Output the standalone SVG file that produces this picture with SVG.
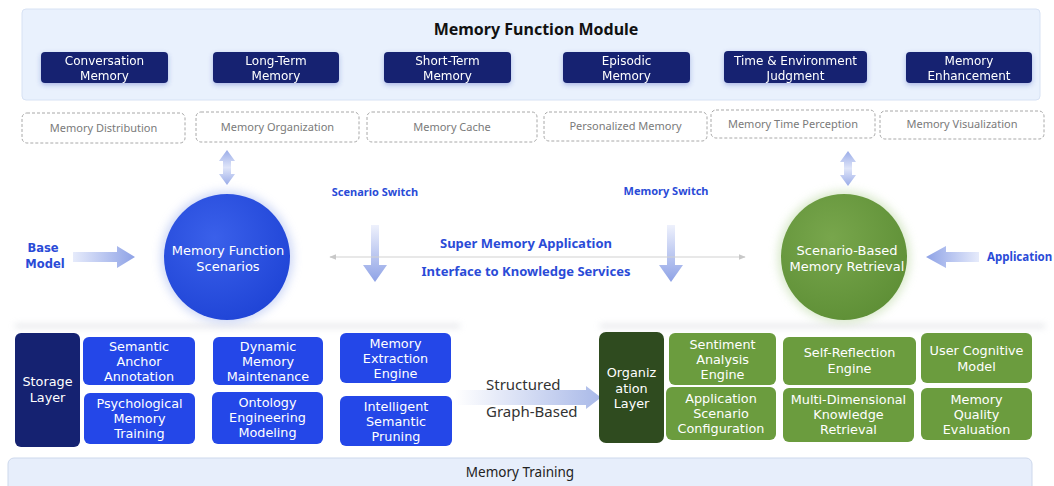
<svg xmlns="http://www.w3.org/2000/svg" width="1054" height="486" viewBox="0 0 1054 486">
<defs>
<style>
.t{font-family:"Noto Sans","Open Sans","DejaVu Sans",sans-serif}
.m{font-family:"DejaVu Sans","Liberation Sans",sans-serif}
.navy{fill:#152271}
.nt{font-size:12px;fill:#fff;text-anchor:middle}
.dash{fill:#fff;stroke:#a8a8a8;stroke-width:1;stroke-dasharray:3 2}
.dt{font-size:11px;fill:#7a7a7a;text-anchor:middle}
.bb{fill:#2447e8}
.gb{fill:#6b9c3e}
.bt{font-size:12.8px;fill:#fff;text-anchor:middle}
.lbl{fill:#2a4bd7;font-weight:bold;text-anchor:middle}
</style>
<filter id="sh" x="-20%" y="-30%" width="140%" height="180%">
<feDropShadow dx="0" dy="2" stdDeviation="2.5" flood-color="#3048b8" flood-opacity="0.35"/>
</filter>
<filter id="blur" x="-30%" y="-30%" width="160%" height="160%">
<feGaussianBlur stdDeviation="5"/>
</filter>
<filter id="blur2" x="-10%" y="-200%" width="120%" height="500%">
<feGaussianBlur stdDeviation="3"/>
</filter>
<radialGradient id="gBlue" cx="40%" cy="35%" r="70%">
<stop offset="0" stop-color="#3a60ea"/>
<stop offset="1" stop-color="#1f44d6"/>
</radialGradient>
<radialGradient id="gGreen" cx="40%" cy="35%" r="70%">
<stop offset="0" stop-color="#78a64c"/>
<stop offset="1" stop-color="#5e8f36"/>
</radialGradient>
<linearGradient id="arH" x1="0" y1="0" x2="1" y2="0">
<stop offset="0" stop-color="#e6ebfb"/>
<stop offset="1" stop-color="#8ea2e6"/>
</linearGradient>
<linearGradient id="arHL" x1="1" y1="0" x2="0" y2="0">
<stop offset="0" stop-color="#e6ebfb"/>
<stop offset="1" stop-color="#8ea2e6"/>
</linearGradient>
<linearGradient id="arV" x1="0" y1="0" x2="0" y2="1">
<stop offset="0" stop-color="#eef1fc"/>
<stop offset="1" stop-color="#8ea2e6"/>
</linearGradient>
<linearGradient id="arD" x1="0" y1="0" x2="0" y2="1">
<stop offset="0" stop-color="#9aace8"/>
<stop offset="0.5" stop-color="#dfe5f9"/>
<stop offset="1" stop-color="#9aace8"/>
</linearGradient>
<linearGradient id="arS" x1="0" y1="0" x2="1" y2="0">
<stop offset="0" stop-color="#ffffff"/>
<stop offset="1" stop-color="#a9b9e8"/>
</linearGradient>
<marker id="thin" viewBox="0 0 10 10" refX="9" refY="5" markerWidth="6" markerHeight="6" orient="auto-start-reverse">
<path d="M0,1 L10,5 L0,9 z" fill="#c8c8c8"/>
</marker>
</defs>

<rect width="1054" height="486" fill="#ffffff"/>

<!-- top module panel -->
<g id="module">
<rect x="22" y="9" width="1018" height="91" rx="4" fill="#e9f1fd" stroke="#d7e2f4"/>
<text class="t" x="536" y="35" font-size="16" font-weight="bold" fill="#111" text-anchor="middle">Memory Function Module</text>
</g>
<g id="conv" filter="url(#sh)"><rect class="navy" x="41" y="52" width="127" height="31" rx="4"/>
<text class="m nt" x="104.5" y="64.5">Conversation</text><text class="m nt" x="104.5" y="80">Memory</text></g>
<g id="longterm" filter="url(#sh)"><rect class="navy" x="213" y="52" width="126" height="31" rx="4"/>
<text class="m nt" x="276" y="64.5">Long-Term</text><text class="m nt" x="276" y="80">Memory</text></g>
<g id="shortterm" filter="url(#sh)"><rect class="navy" x="384" y="52" width="127" height="31" rx="4"/>
<text class="m nt" x="447.5" y="64.5">Short-Term</text><text class="m nt" x="447.5" y="80">Memory</text></g>
<g id="episodic" filter="url(#sh)"><rect class="navy" x="563" y="52" width="127" height="31" rx="4"/>
<text class="m nt" x="626.5" y="64.5">Episodic</text><text class="m nt" x="626.5" y="80">Memory</text></g>
<g id="timeenv" filter="url(#sh)"><rect class="navy" x="724" y="51" width="143" height="32" rx="4"/>
<text class="m nt" x="795.5" y="64.5">Time &amp; Environment</text><text class="m nt" x="795.5" y="80">Judgment</text></g>
<g id="enhance" filter="url(#sh)"><rect class="navy" x="906" y="52" width="126" height="31" rx="4"/>
<text class="m nt" x="969" y="64.5">Memory</text><text class="m nt" x="969" y="80">Enhancement</text></g>

<!-- dashed row -->
<g id="distribution"><rect class="dash" x="22" y="113" width="163" height="30" rx="5"/><text class="t dt" x="103.5" y="132">Memory Distribution</text></g>
<g id="organization"><rect class="dash" x="196" y="112" width="163" height="30" rx="5"/><text class="t dt" x="277.5" y="131">Memory Organization</text></g>
<g id="cache"><rect class="dash" x="367" y="112" width="170" height="30" rx="5"/><text class="t dt" x="452" y="131">Memory Cache</text></g>
<g id="personalized"><rect class="dash" x="544" y="112" width="163" height="29" rx="5"/><text class="t dt" x="625.5" y="130">Personalized Memory</text></g>
<g id="timeperception"><rect class="dash" x="711" y="110" width="164" height="28" rx="5"/><text class="t dt" x="793" y="128">Memory Time Perception</text></g>
<g id="visualization"><rect class="dash" x="880" y="111" width="164" height="28" rx="5"/><text class="t dt" x="962" y="128">Memory Visualization</text></g>

<!-- soft shadow band above bottom -->
<rect x="15" y="324" width="445" height="4" fill="#c9ccd4" opacity="0.5" filter="url(#blur2)"/>
<rect x="600" y="324" width="445" height="4" fill="#c9ccd4" opacity="0.5" filter="url(#blur2)"/>

<!-- circles -->
<g id="scenarios">
<circle cx="227" cy="257" r="66" fill="#b9c7f3" opacity="0.7" filter="url(#blur)"/>
<circle cx="227" cy="257" r="63" fill="url(#gBlue)"/>
<text class="m" x="228" y="255" font-size="13" fill="#fff" text-anchor="middle">Memory Function</text>
<text class="m" x="228" y="271" font-size="13" fill="#fff" text-anchor="middle">Scenarios</text>
</g>
<g id="retrieval">
<circle cx="844" cy="257" r="66" fill="#cfe3bd" opacity="0.8" filter="url(#blur)"/>
<circle cx="844" cy="257" r="63" fill="url(#gGreen)"/>
<text class="m" x="847" y="255" font-size="13" fill="#fff" text-anchor="middle">Scenario-Based</text>
<text class="m" x="847" y="271" font-size="13" fill="#fff" text-anchor="middle">Memory Retrieval</text>
</g>

<!-- labels -->
<g id="labels">
<text class="m lbl" x="43" y="252" font-size="11.5">Base</text>
<text class="m lbl" x="45" y="268" font-size="11.5">Model</text>
<text class="t lbl" x="375" y="196" font-size="11">Scenario Switch</text>
<text class="t lbl" x="666" y="195" font-size="11">Memory Switch</text>
<text class="t lbl" x="526" y="248" font-size="13">Super Memory Application</text>
<text class="t lbl" x="526" y="276" font-size="13">Interface to Knowledge Services</text>
<text class="t" x="987" y="261" font-size="11.5" font-weight="bold" fill="#2a4bd7">Application</text>
</g>

<!-- connectors -->
<g id="connectors">
<path d="M73,252 H117 V246 L135,257 L117,268 V262 H73 Z" fill="url(#arH)"/>
<path d="M979,252 H946 V246 L926,257 L946,268 V262 H979 Z" fill="url(#arHL)"/>
<path d="M371,225 V265 H363 L375,282 L387,265 H379 V225 Z" fill="url(#arV)"/>
<path d="M667,225 V265 H659 L671,282 L683,265 H675 V225 Z" fill="url(#arV)"/>
<path d="M227,150 L235,161 H231 V174 H235 L227,185 L219,174 H223 V161 H219 Z" fill="url(#arD)"/>
<path d="M848,151 L856,162 H852 V175 H856 L848,186 L840,175 H844 V162 H840 Z" fill="url(#arD)"/>
<line x1="330" y1="257" x2="745" y2="257" stroke="#d2d2d2" stroke-width="1.2" marker-start="url(#thin)" marker-end="url(#thin)"/>
<path d="M455,390 H586 V386 L601,397.5 L586,409 V405 H455 Z" fill="url(#arS)"/>
</g>

<!-- storage layer -->
<g id="storage"><rect class="navy" x="15" y="333" width="65" height="114" rx="6"/>
<text class="m bt" x="47.5" y="386">Storage</text><text class="m bt" x="47.5" y="402">Layer</text></g>
<g id="semantic"><rect class="bb" x="83" y="337" width="112" height="48" rx="6"/>
<text class="m bt" x="139" y="351">Semantic</text><text class="m bt" x="139" y="366">Anchor</text><text class="m bt" x="139" y="381">Annotation</text></g>
<g id="dynamic"><rect class="bb" x="213" y="337" width="110" height="48" rx="6"/>
<text class="m bt" x="268" y="351">Dynamic</text><text class="m bt" x="268" y="366">Memory</text><text class="m bt" x="268" y="381">Maintenance</text></g>
<g id="extraction"><rect class="bb" x="340" y="333" width="111" height="50" rx="6"/>
<text class="m bt" x="395.5" y="348">Memory</text><text class="m bt" x="395.5" y="363">Extraction</text><text class="m bt" x="395.5" y="378">Engine</text></g>
<g id="psych"><rect class="bb" x="84" y="393" width="111" height="51" rx="6"/>
<text class="m bt" x="139.5" y="408">Psychological</text><text class="m bt" x="139.5" y="423">Memory</text><text class="m bt" x="139.5" y="438">Training</text></g>
<g id="ontology"><rect class="bb" x="212" y="392" width="111" height="52" rx="6"/>
<text class="m bt" x="267.5" y="407">Ontology</text><text class="m bt" x="267.5" y="422">Engineering</text><text class="m bt" x="267.5" y="437">Modeling</text></g>
<g id="pruning"><rect class="bb" x="340" y="396" width="112" height="50" rx="6"/>
<text class="m bt" x="396" y="411">Intelligent</text><text class="m bt" x="396" y="426">Semantic</text><text class="m bt" x="396" y="441">Pruning</text></g>

<g id="structlbl">
<text class="t" x="486" y="390" font-size="15" fill="#333">Structured</text>
<text class="t" x="486" y="417" font-size="15" fill="#333">Graph-Based</text>
</g>

<!-- organization layer -->
<g id="orglayer"><rect x="599" y="332" width="65" height="111" rx="7" fill="#2f4b1f"/>
<text class="m bt" x="631.5" y="377">Organiz</text><text class="m bt" x="631.5" y="392.5">ation</text><text class="m bt" x="631.5" y="408">Layer</text></g>
<g id="sentiment"><rect class="gb" x="669" y="333" width="107" height="52" rx="6"/>
<text class="m bt" x="722.5" y="349">Sentiment</text><text class="m bt" x="722.5" y="364">Analysis</text><text class="m bt" x="722.5" y="379">Engine</text></g>
<g id="selfreflect"><rect class="gb" x="783" y="337" width="133" height="48" rx="6"/>
<text class="m bt" x="849.5" y="357">Self-Reflection</text><text class="m bt" x="849.5" y="373">Engine</text></g>
<g id="usercog"><rect class="gb" x="921" y="333" width="111" height="50" rx="6"/>
<text class="m bt" x="976.5" y="355">User Cognitive</text><text class="m bt" x="976.5" y="371">Model</text></g>
<g id="appscen"><rect class="gb" x="666" y="387" width="110" height="53" rx="6"/>
<text class="m bt" x="721" y="403">Application</text><text class="m bt" x="721" y="418">Scenario</text><text class="m bt" x="721" y="433">Configuration</text></g>
<g id="multidim"><rect class="gb" x="783" y="388" width="131" height="54" rx="6"/>
<text class="m bt" x="848.5" y="404">Multi-Dimensional</text><text class="m bt" x="848.5" y="419">Knowledge</text><text class="m bt" x="848.5" y="434">Retrieval</text></g>
<g id="quality"><rect class="gb" x="921" y="388" width="111" height="52" rx="6"/>
<text class="m bt" x="976.5" y="404">Memory</text><text class="m bt" x="976.5" y="419">Quality</text><text class="m bt" x="976.5" y="434">Evaluation</text></g>

<!-- training bar -->
<g id="training"><rect x="8" y="458" width="1024" height="40" rx="6" fill="#e7eefb" stroke="#cdd8ec"/>
<text class="t" x="520" y="477" font-size="13.5" fill="#222" text-anchor="middle">Memory Training</text></g>
</svg>
